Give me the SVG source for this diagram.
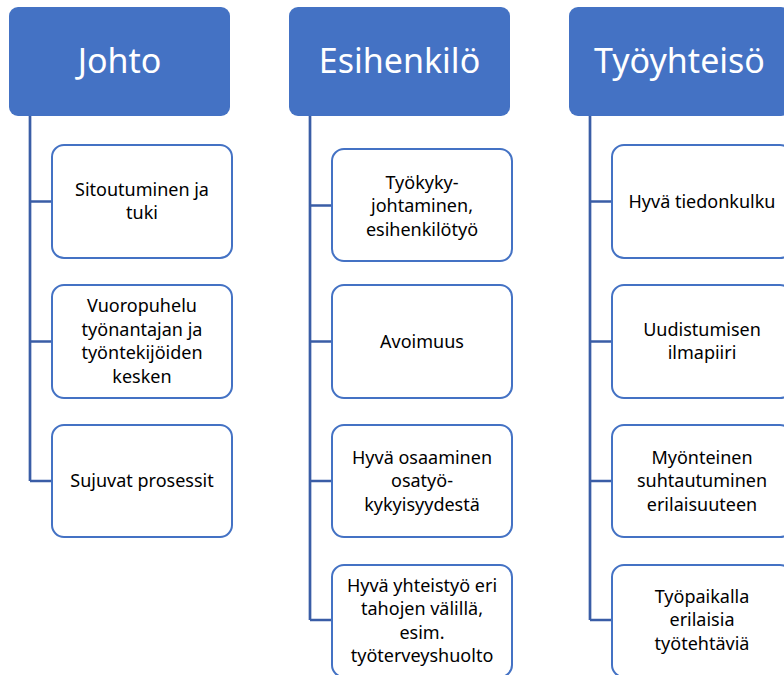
<svg xmlns="http://www.w3.org/2000/svg" width="784" height="675" viewBox="0 0 784 675">
<style>
.hdr{fill:#4472C4}
.hdr-t{fill:#fff;font-family:"Noto Sans","Open Sans",sans-serif;font-size:34px;text-anchor:middle}
.box{fill:#fff;stroke:#4472C4;stroke-width:2}
.t{fill:#000;font-family:"Noto Sans","Open Sans",sans-serif;font-size:18px;text-anchor:middle}
.con{fill:none;stroke:#3A5DA6;stroke-width:2.7}
</style>
<rect width="784" height="675" fill="#fff"/>
<g id="connectors">
<path class="con" d="M30 116V481M30 201.5H52M30 341.5H52M30 481H52"/>
<path class="con" d="M310 116V620M310 205.5H332M310 341.5H332M310 481H332M310 620H332"/>
<path class="con" d="M590 116V620M590 201.5H612M590 341.5H612M590 481H612M590 620H612"/>
</g>
<g id="johto">
<rect class="hdr" x="9" y="7" width="221" height="109" rx="9"/>
<text class="hdr-t" x="119.5" y="73">Johto</text>
</g>
<g id="johto-1">
<rect class="box" x="52" y="145" width="180" height="113" rx="12"/>
<text class="t" x="142" y="195.75">Sitoutuminen ja</text>
<text class="t" x="142" y="219.25">tuki</text>
</g>
<g id="johto-2">
<rect class="box" x="52" y="285" width="180" height="113" rx="12"/>
<text class="t" x="142" y="312.25">Vuoropuhelu</text>
<text class="t" x="142" y="335.75">työnantajan ja</text>
<text class="t" x="142" y="359.25">työntekijöiden</text>
<text class="t" x="142" y="382.75">kesken</text>
</g>
<g id="johto-3">
<rect class="box" x="52" y="425" width="180" height="112" rx="12"/>
<text class="t" x="142" y="487">Sujuvat prosessit</text>
</g>
<g id="esihenkilo">
<rect class="hdr" x="289" y="7" width="221" height="109" rx="9"/>
<text class="hdr-t" x="399.5" y="73">Esihenkilö</text>
</g>
<g id="esihenkilo-1">
<rect class="box" x="332" y="149" width="180" height="112" rx="12"/>
<text class="t" x="422" y="188.5">Työkyky-</text>
<text class="t" x="422" y="212">johtaminen,</text>
<text class="t" x="422" y="235.5">esihenkilötyö</text>
</g>
<g id="esihenkilo-2">
<rect class="box" x="332" y="285" width="180" height="113" rx="12"/>
<text class="t" x="422" y="347.5">Avoimuus</text>
</g>
<g id="esihenkilo-3">
<rect class="box" x="332" y="425" width="180" height="112" rx="12"/>
<text class="t" x="422" y="463.5">Hyvä osaaminen</text>
<text class="t" x="422" y="487">osatyö-</text>
<text class="t" x="422" y="510.5">kykyisyydestä</text>
</g>
<g id="esihenkilo-4">
<rect class="box" x="332" y="565" width="180" height="112" rx="12"/>
<text class="t" x="422" y="591.5">Hyvä yhteistyö eri</text>
<text class="t" x="422" y="615">tahojen välillä,</text>
<text class="t" x="422" y="638.5">esim.</text>
<text class="t" x="422" y="662">työterveyshuolto</text>
</g>
<g id="tyoyhteiso">
<rect class="hdr" x="569" y="7" width="221" height="109" rx="9"/>
<text class="hdr-t" x="679.5" y="73">Työyhteisö</text>
</g>
<g id="tyoyhteiso-1">
<rect class="box" x="612" y="145" width="180" height="113" rx="12"/>
<text class="t" x="702" y="207.5">Hyvä tiedonkulku</text>
</g>
<g id="tyoyhteiso-2">
<rect class="box" x="612" y="285" width="180" height="113" rx="12"/>
<text class="t" x="702" y="335.75">Uudistumisen</text>
<text class="t" x="702" y="359.25">ilmapiiri</text>
</g>
<g id="tyoyhteiso-3">
<rect class="box" x="612" y="425" width="180" height="112" rx="12"/>
<text class="t" x="702" y="463.5">Myönteinen</text>
<text class="t" x="702" y="487">suhtautuminen</text>
<text class="t" x="702" y="510.5">erilaisuuteen</text>
</g>
<g id="tyoyhteiso-4">
<rect class="box" x="612" y="565" width="180" height="112" rx="12"/>
<text class="t" x="702" y="602.5">Työpaikalla</text>
<text class="t" x="702" y="626">erilaisia</text>
<text class="t" x="702" y="649.5">työtehtäviä</text>
</g>
</svg>
